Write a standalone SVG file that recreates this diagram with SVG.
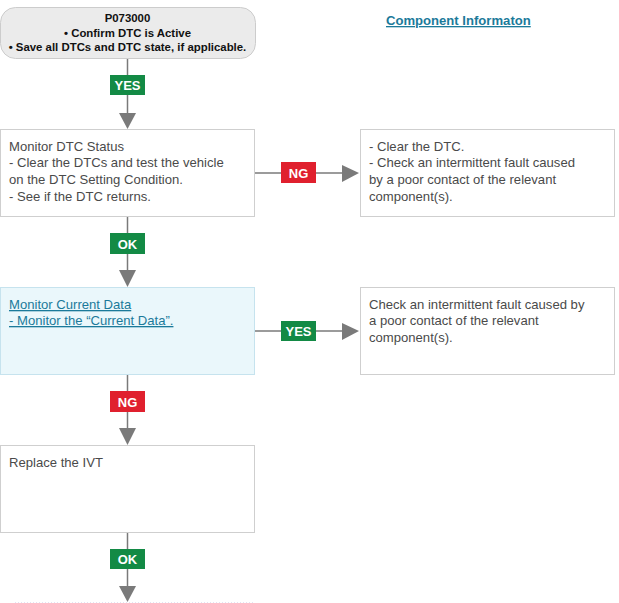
<svg xmlns="http://www.w3.org/2000/svg" width="619" height="603" viewBox="0 0 619 603">
<style>
  .box{fill:#ffffff;stroke:#cfcfcf;stroke-width:1}
  .blue{fill:#eaf7fb;stroke:#c6e3ee;stroke-width:1}
  .start{fill:#ebebeb;stroke:#cccccc;stroke-width:1}
  .txt{font-family:"Liberation Sans",Arial,sans-serif;font-size:13.1px;fill:#4a4a4a}
  .btxt{font-family:"Liberation Sans",Arial,sans-serif;font-size:11.4px;font-weight:bold;fill:#111111}
  .link{font-family:"Liberation Sans",Arial,sans-serif;font-size:13.1px;fill:#1b7a9a;text-decoration:underline}
  .clink{font-family:"Liberation Sans",Arial,sans-serif;font-size:13.1px;font-weight:bold;fill:#1b7a9a;text-decoration:underline}
  .line{stroke:#7a7a7a;stroke-width:1.5;fill:none}
  .head{fill:#7a7a7a}
  .ok{fill:#138a45}
  .ng{fill:#e0202e}
  .lbl{font-family:"Liberation Sans",Arial,sans-serif;font-size:13px;font-weight:bold;fill:#ffffff;text-anchor:middle}
</style>
<rect width="619" height="603" fill="#ffffff"/>

<g id="connectors">
  <line class="line" x1="127.5" y1="58" x2="127.5" y2="114"/>
  <polygon class="head" points="119,113 136,113 127.5,129"/>
  <rect class="ok" x="110" y="75" width="35" height="20"/>
  <text class="lbl" x="127.5" y="90">YES</text>

  <line class="line" x1="255" y1="173" x2="344" y2="173"/>
  <polygon class="head" points="342,165 342,182 359,173"/>
  <rect class="ng" x="281" y="162" width="35" height="21"/>
  <text class="lbl" x="298.5" y="178">NG</text>

  <line class="line" x1="127.5" y1="216" x2="127.5" y2="272"/>
  <polygon class="head" points="119,270 136,270 127.5,287"/>
  <rect class="ok" x="110" y="233" width="35" height="21"/>
  <text class="lbl" x="127.5" y="248.5">OK</text>

  <line class="line" x1="255" y1="331" x2="344" y2="331"/>
  <polygon class="head" points="342,323 342,340 359,331"/>
  <rect class="ok" x="281" y="321" width="35" height="20"/>
  <text class="lbl" x="298.5" y="336">YES</text>

  <line class="line" x1="127.5" y1="375" x2="127.5" y2="430"/>
  <polygon class="head" points="119,428 136,428 127.5,445"/>
  <rect class="ng" x="110" y="391" width="35" height="21"/>
  <text class="lbl" x="127.5" y="406.5">NG</text>

  <line class="line" x1="127.5" y1="532" x2="127.5" y2="588"/>
  <polygon class="head" points="119,586 136,586 127.5,602"/>
  <rect class="ok" x="110" y="549" width="35" height="20"/>
  <text class="lbl" x="127.5" y="564">OK</text>
</g>

<g id="start">
  <rect class="start" x="0.5" y="7.5" width="255" height="51" rx="15" ry="15"/>
  <text class="btxt" x="127.5" y="22" text-anchor="middle">P073000</text>
  <text class="btxt" x="127.5" y="37" text-anchor="middle">• Confirm DTC is Active</text>
  <text class="btxt" x="127.5" y="51" text-anchor="middle">• Save all DTCs and DTC state, if applicable.</text>
</g>

<g id="component-info">
  <text class="clink" x="386" y="25">Component Informaton</text>
</g>

<g id="monitor-dtc">
  <rect class="box" x="0.5" y="129.5" width="254" height="87"/>
  <text class="txt" x="9" y="151">Monitor DTC Status</text>
  <text class="txt" x="9" y="167">- Clear the DTCs and test the vehicle</text>
  <text class="txt" x="9" y="184">on the DTC Setting Condition.</text>
  <text class="txt" x="9" y="201">- See if the DTC returns.</text>
</g>

<g id="clear-dtc">
  <rect class="box" x="360.5" y="129.5" width="254" height="87"/>
  <text class="txt" x="369" y="151">- Clear the DTC.</text>
  <text class="txt" x="369" y="167">- Check an intermittent fault caused</text>
  <text class="txt" x="369" y="184">by a poor contact of the relevant</text>
  <text class="txt" x="369" y="201">component(s).</text>
</g>

<g id="monitor-current">
  <rect class="blue" x="0.5" y="287.5" width="254" height="87"/>
  <text class="link" x="9" y="309">Monitor Current Data</text>
  <text class="link" x="9" y="325">- Monitor the “Current Data”.</text>
</g>

<g id="check-fault">
  <rect class="box" x="360.5" y="287.5" width="254" height="87"/>
  <text class="txt" x="369" y="309">Check an intermittent fault caused by</text>
  <text class="txt" x="369" y="325">a poor contact of the relevant</text>
  <text class="txt" x="369" y="342">component(s).</text>
</g>

<g id="replace-ivt">
  <rect class="box" x="0.5" y="445.5" width="254" height="87"/>
  <text class="txt" x="9" y="467">Replace the IVT</text>
</g>

<g id="next">
  <line x1="15" y1="602.5" x2="255" y2="602.5" stroke="#e2e2f2" stroke-width="1" stroke-dasharray="1,2"/>
</g>
</svg>
